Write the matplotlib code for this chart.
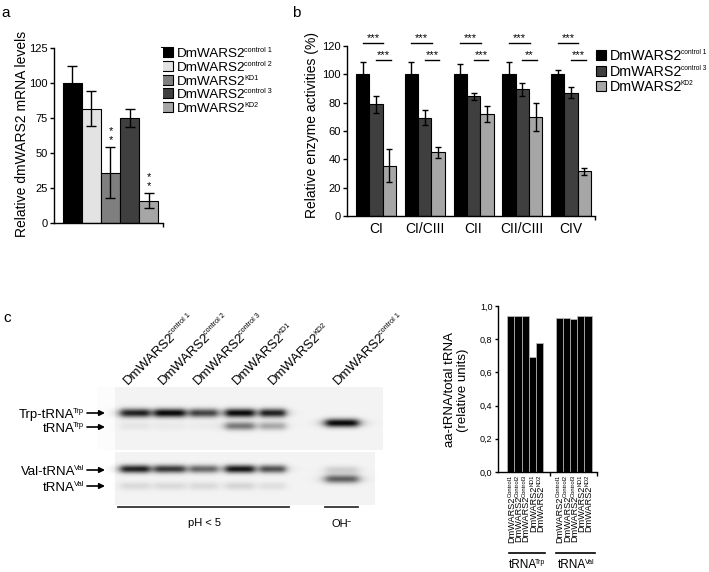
import numpy as np
import matplotlib
matplotlib.use('Agg')
import matplotlib.pyplot as plt
from matplotlib.patches import Rectangle

plt.rcParams['font.family'] = ['Liberation Sans', 'DejaVu Sans']

# ---------------- data ----------------
a_labels = ['control 1', 'control 2', 'KD1', 'control 3', 'KD2']
a_values = [100, 81.5, 36, 75, 16]
a_errors = [12, 12.5, 18, 6.5, 5.5]
a_stars = ['', '', '*', '', '*']

b_categories = ['CI', 'CI/CIII', 'CII', 'CII/CIII', 'CIV']
b_series = ['control 1', 'control 3', 'KD2']
b_ctrl1 = [100, 100, 100, 100, 100]
b_ctrl1_err = [9, 8.5, 7, 8.5, 3]
b_ctrl3 = [79, 69.5, 84.5, 89.5, 87]
b_ctrl3_err = [6, 5, 2.5, 4.5, 4]
b_kd2 = [35.5, 45, 72, 70, 31.5]
b_kd2_err = [11.5, 4, 5.5, 10, 2.5]
b_sig_ctrl1 = ['***', '***', '***', '***', '***']
b_sig_ctrl3 = ['***', '***', '***', '**', '***']

gel_lanes = ['control 1', 'control 2', 'control 3', 'KD1', 'KD2', 'control 1']
trp_charged = [0.85, 0.95, 0.70, 0.95, 0.85, 0.0]
trp_free = [0.06, 0.04, 0.03, 0.50, 0.30, 0.97]
val_charged = [0.85, 0.75, 0.55, 0.90, 0.65, 0.15]
val_free = [0.10, 0.10, 0.10, 0.12, 0.08, 0.60]
gel_marks = [('Trp-tRNA', 'Trp'), ('tRNA', 'Trp'), ('Val-tRNA', 'Val'), ('tRNA', 'Val')]

c_labels = ['Control1', 'Control2', 'Control3', 'KD1', 'KD2']
c_trp = [0.94, 0.94, 0.94, 0.69, 0.78]
c_val = [0.93, 0.93, 0.92, 0.94, 0.94]

# ---------------- styles ----------------
a_colors = ['#000000', '#e3e3e3', '#7f7f7f', '#3f3f3f', '#a6a6a6']
b_colors = ['#000000', '#3f3f3f', '#a6a6a6']

W, H = 709, 572
fig = plt.figure(figsize=(W / 100, H / 100), dpi=100)
renderer = fig.canvas.get_renderer()


def px_axes(l, t, r, b, **kw):
    return fig.add_axes([l / W, 1 - b / H, (r - l) / W, (b - t) / H], **kw)


def style_axes(ax):
    ax.spines['top'].set_visible(False)
    ax.spines['right'].set_visible(False)
    for s in ('left', 'bottom'):
        ax.spines[s].set_linewidth(1.0)


# overlay axes in pixel coordinates (y down)
ov = px_axes(0, 0, W, H)
ov.set_xlim(0, W)
ov.set_ylim(H, 0)
ov.axis('off')


def text_width(s, size):
    t = ov.text(0, 0, s, fontsize=size)
    w = t.get_window_extent(renderer).width
    t.remove()
    return w


def sup_text(x, y, base, sup, size, sup_size, rot=0, anchor='start', valign='baseline'):
    th = np.deg2rad(rot)
    along = np.array([np.cos(th), -np.sin(th)])
    up = np.array([-np.sin(th), -np.cos(th)])
    em = size * 100 / 72
    wb = text_width(base, size) - 0.12 * em
    ws = text_width(sup, sup_size)
    cap = 0.716 * em
    cap_s = 0.716 * sup_size * 100 / 72
    p = np.array([x, y], float)
    if anchor == 'end':
        p = p - along * (wb + ws)
    elif anchor == 'center':
        p = p - along * (wb + ws) / 2
    if valign == 'center':
        p = p - up * cap / 2
    ov.text(p[0], p[1], base, fontsize=size, rotation=rot, rotation_mode='anchor',
            ha='left', va='baseline')
    q = p + along * wb + up * (cap - cap_s + 0.3)
    ov.text(q[0], q[1], sup, fontsize=sup_size, rotation=rot, rotation_mode='anchor',
            ha='left', va='baseline')


# ---------------- panel a ----------------
ax_a = px_axes(54, 48, 163, 223)
xa = np.arange(len(a_values))
ax_a.bar(xa, a_values, width=1.0, color=a_colors, edgecolor='black', linewidth=0.8,
         yerr=a_errors, error_kw=dict(ecolor='black', elinewidth=1.0, capsize=3.5, capthick=1.0))
for i, s in enumerate(a_stars):
    if s:
        top = a_values[i] + a_errors[i]
        ax_a.text(i, top + 5, s, ha='center', va='center', fontsize=8)
        ax_a.text(i, top + 11.5, s, ha='center', va='center', fontsize=8)
ax_a.set_xlim(-0.97, 4.76)
ax_a.set_ylim(0, 125)
ax_a.set_yticks([0, 25, 50, 75, 100, 125])
ax_a.set_xticks([4.76])
ax_a.set_xticklabels([''])
ax_a.tick_params(axis='both', length=3, width=1.0, labelsize=8, pad=1.5, direction='out')
style_axes(ax_a)
ax_a.set_ylabel('Relative dmWARS2 mRNA levels', fontsize=10, va='center')
ax_a.yaxis.set_label_coords(-0.29, 0.51)

for i, lab in enumerate(a_labels):
    y = [52, 66, 80, 93, 107][i]
    ov.add_patch(Rectangle((161, y - 5), 12, 10, facecolor=a_colors[i], edgecolor='black', lw=0.8))
    sup_text(177, y, 'DmWARS2', lab, 9.7, 5.2, valign='center')

# ---------------- panel b ----------------
ax_b = px_axes(347, 46, 595, 216)
xb = np.arange(len(b_categories))
bw = 0.273
for k, (vals, errs) in enumerate([(b_ctrl1, b_ctrl1_err), (b_ctrl3, b_ctrl3_err), (b_kd2, b_kd2_err)]):
    ax_b.bar(xb + (k - 1) * bw, vals, width=bw, color=b_colors[k], edgecolor='black', linewidth=0.8,
             yerr=errs, error_kw=dict(ecolor='black', elinewidth=1.0, capsize=2.5, capthick=1.0))
for i in range(len(b_categories)):
    g0 = i - 1.5 * bw
    ax_b.plot([g0 + 0.5 * bw, g0 + 2.05 * bw], [122, 122], color='black', lw=1.0, clip_on=False)
    ax_b.text((2 * g0 + 2.55 * bw) / 2, 122.3, b_sig_ctrl1[i], ha='center', va='bottom', fontsize=8)
    ax_b.plot([g0 + 1.5 * bw, g0 + 2.6 * bw], [110, 110], color='black', lw=1.0, clip_on=False)
    ax_b.text((2 * g0 + 4.1 * bw) / 2, 110.3, b_sig_ctrl3[i], ha='center', va='bottom', fontsize=8)
ax_b.set_xlim(-0.595, 4.49)
ax_b.set_ylim(0, 120)
ax_b.set_yticks(np.arange(0, 121, 20))
ax_b.set_xticks(xb)
ax_b.set_xticklabels(b_categories, fontsize=10)
ax_b.tick_params(axis='x', length=0, pad=4)
ax_b.set_xticks([4.49], minor=True)
ax_b.tick_params(axis='x', which='minor', length=3, width=1.0)
ax_b.tick_params(axis='y', length=3, width=1.0, labelsize=8, pad=1.5)
style_axes(ax_b)
ax_b.set_ylabel('Relative enzyme activities (%)', fontsize=10, va='center')
ax_b.yaxis.set_label_coords(-0.141, 0.535)

for i, lab in enumerate(b_series):
    y = [55, 71, 86][i]
    ov.add_patch(Rectangle((596, y - 5), 10, 10, facecolor=b_colors[i], edgecolor='black', lw=0.8))
    sup_text(610, y, 'DmWARS2', lab, 10.3, 4.8, valign='center')

# ---------------- panel c : gel ----------------
gx0, gx1, gy0, gy1 = 95, 390, 380, 510
xs = np.arange(gx0, gx1) + 0.5
ys = np.arange(gy0, gy1) + 0.5
X, Y = np.meshgrid(xs, ys)
img = np.zeros_like(X)
img += 0.015 * ((X > 97) & (X < 115) & (Y > 387) & (Y < 450))
img += 0.05 * ((X >= 115) & (X < 383) & (Y > 387) & (Y < 450))
img += 0.05 * ((X >= 115) & (X < 375) & (Y > 452) & (Y < 505))
lane_x = [135, 170, 204, 240, 273, 342]
lane_hw = [15, 16, 14, 15, 13, 17]
band_sets = [
    (trp_charged, [413] * 5 + [413], 3.1),
    (trp_free, [426] * 5 + [423], 3.0),
    (val_charged, [469] * 5 + [470], 2.9),
    (val_free, [486] * 5 + [479], 3.0),
]
for vals, yc, sy in band_sets:
    for j, v in enumerate(vals):
        xp = 1.0 / (1.0 + ((X - lane_x[j]) / lane_hw[j]) ** 6)
        yp = np.exp(-0.5 * ((Y - yc[j]) / sy) ** 2)
        img += v * xp * yp
img = np.clip(img, 0, 1)
ov.imshow(img, cmap='gray_r', vmin=0, vmax=1.05, extent=(gx0, gx1, gy1, gy0),
          aspect='auto', interpolation='bilinear', zorder=0)
ov.set_xlim(0, W)
ov.set_ylim(H, 0)

lab_x = [128, 163, 198, 237, 273, 338]
for j, lab in enumerate(gel_lanes):
    sup_text(lab_x[j], 385, 'DmWARS2', lab, 9.6, 5.2, rot=45)

for (base, sp), y in zip(gel_marks, [413, 427, 470, 486]):
    sup_text(84, y, base, sp, 9.5, 5.5, anchor='end', valign='center')
    ov.annotate('', xy=(105, y), xytext=(87, y),
                arrowprops=dict(arrowstyle='-|>', color='black', lw=1.2, mutation_scale=8,
                                shrinkA=0, shrinkB=0))

ov.plot([118, 289], [507, 507], color='#333333', lw=1.3)
ov.plot([325, 358], [507, 507], color='#333333', lw=1.3)
ov.text(204, 523, 'pH < 5', ha='center', va='center', fontsize=8)
sup_text(341, 523, 'OH', '\u2212', 8, 5, anchor='center', valign='center')

# ---------------- panel c : bar chart ----------------
ax_c = px_axes(498, 306, 597, 472)
x1 = np.arange(len(c_trp))
x2 = 6.72 + np.arange(len(c_val))
ax_c.bar(x1, c_trp, width=1.0, align='edge', color='black', edgecolor='#bdbdbd', linewidth=0.5)
ax_c.bar(x2, c_val, width=1.0, align='edge', color='black', edgecolor='#bdbdbd', linewidth=0.5)
ax_c.set_xlim(-1.29, 12.46)
ax_c.set_ylim(0, 1.0)
yt = np.arange(0, 1.01, 0.2)
ax_c.set_yticks(yt)
ax_c.set_yticklabels([f'{v:.1f}'.replace('.', ',') for v in yt])
ax_c.set_xticks([5.93, 12.46])
ax_c.set_xticklabels(['', ''])
ax_c.tick_params(axis='x', length=3, width=1.0)
ax_c.tick_params(axis='y', length=2.5, width=1.0, labelsize=6.5, pad=1.5)
style_axes(ax_c)
ax_c.set_ylabel('aa-tRNA/total tRNA\n(relative units)', fontsize=9.5, va='center',
                multialignment='center', linespacing=1.1)
ax_c.yaxis.set_label_coords(-0.42, 0.494)

centers = np.concatenate([x1, x2]) + 0.5
for k, xc in enumerate(centers):
    dx, dy = ax_c.transData.transform((xc, 0))
    sup_text(dx, 475, 'DmWARS2', c_labels[k % 5], 6.6, 4.2, rot=90, anchor='end', valign='center')

ov.plot([509, 545], [553, 553], color='black', lw=1.2)
ov.plot([556, 595], [553, 553], color='black', lw=1.2)
sup_text(527, 564, 'tRNA', 'Trp', 8.5, 5, anchor='center', valign='center')
sup_text(576, 564, 'tRNA', 'Val', 8.5, 5, anchor='center', valign='center')

# panel letters
ov.text(1, 17, 'a', fontsize=11, ha='left', va='baseline')
ov.text(292, 17, 'b', fontsize=11, ha='left', va='baseline')
ov.text(3, 322, 'c', fontsize=11, ha='left', va='baseline')

fig.savefig('out.png', dpi=100)
